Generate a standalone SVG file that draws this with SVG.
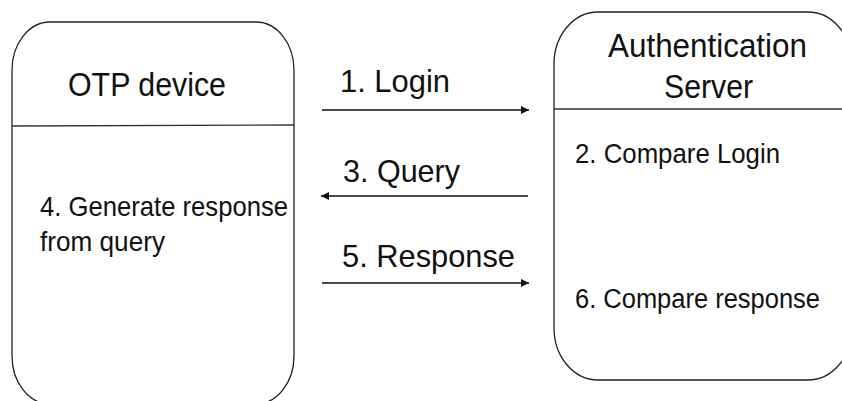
<svg xmlns="http://www.w3.org/2000/svg" width="842" height="401" viewBox="0 0 842 401">
<defs>
<style>
.box{fill:#fff;stroke:#222;stroke-width:1.3}
.div{stroke:#333;stroke-width:1.3}
.t{font-family:"Liberation Sans",Arial,sans-serif;fill:#111}
.big{font-size:34px}
.mid{font-size:32px}
.sm{font-size:28px}
.sm2{font-size:27px}
.conn{stroke:#111;stroke-width:1.3;fill:none}
</style>
<marker id="ah" viewBox="0 0 10 10" refX="10" refY="5" markerWidth="9" markerHeight="8" markerUnits="userSpaceOnUse" orient="auto">
<path d="M0,0 L10,5 L0,10 Z" fill="#111"/>
</marker>
</defs>
<rect width="842" height="401" fill="#fff"/>
<g id="otp">
<rect class="box" x="12" y="22" width="282" height="382" rx="38" ry="48"/>
<line class="div" x1="12" y1="126" x2="294" y2="125"/>
<text class="t big" x="68" y="96" textLength="158" lengthAdjust="spacingAndGlyphs">OTP device</text>
<text class="t sm" x="40" y="216" textLength="248" lengthAdjust="spacingAndGlyphs">4. Generate response</text>
<text class="t sm" x="40" y="251" textLength="125" lengthAdjust="spacingAndGlyphs">from query</text>
</g>
<g id="server">
<rect class="box" x="554" y="12" width="298" height="368" rx="44" ry="52"/>
<line class="div" x1="554" y1="109" x2="842" y2="109"/>
<text class="t big" x="608" y="57" textLength="199" lengthAdjust="spacingAndGlyphs">Authentication</text>
<text class="t big" x="664" y="98" textLength="89" lengthAdjust="spacingAndGlyphs">Server</text>
<text class="t sm" x="575" y="163" textLength="205" lengthAdjust="spacingAndGlyphs">2. Compare Login</text>
<text class="t sm2" x="575" y="308" textLength="245" lengthAdjust="spacingAndGlyphs">6. Compare response</text>
</g>
<g id="connectors">
<line class="conn" x1="322" y1="110" x2="529" y2="110" marker-end="url(#ah)"/>
<line class="conn" x1="528" y1="196" x2="321" y2="196" marker-end="url(#ah)"/>
<line class="conn" x1="322" y1="283" x2="529" y2="283" marker-end="url(#ah)"/>
<text class="t mid" x="340" y="92" textLength="110" lengthAdjust="spacingAndGlyphs">1. Login</text>
<text class="t mid" x="343" y="182" textLength="117" lengthAdjust="spacingAndGlyphs">3. Query</text>
<text class="t mid" x="342" y="267" textLength="173" lengthAdjust="spacingAndGlyphs">5. Response</text>
</g>
</svg>
